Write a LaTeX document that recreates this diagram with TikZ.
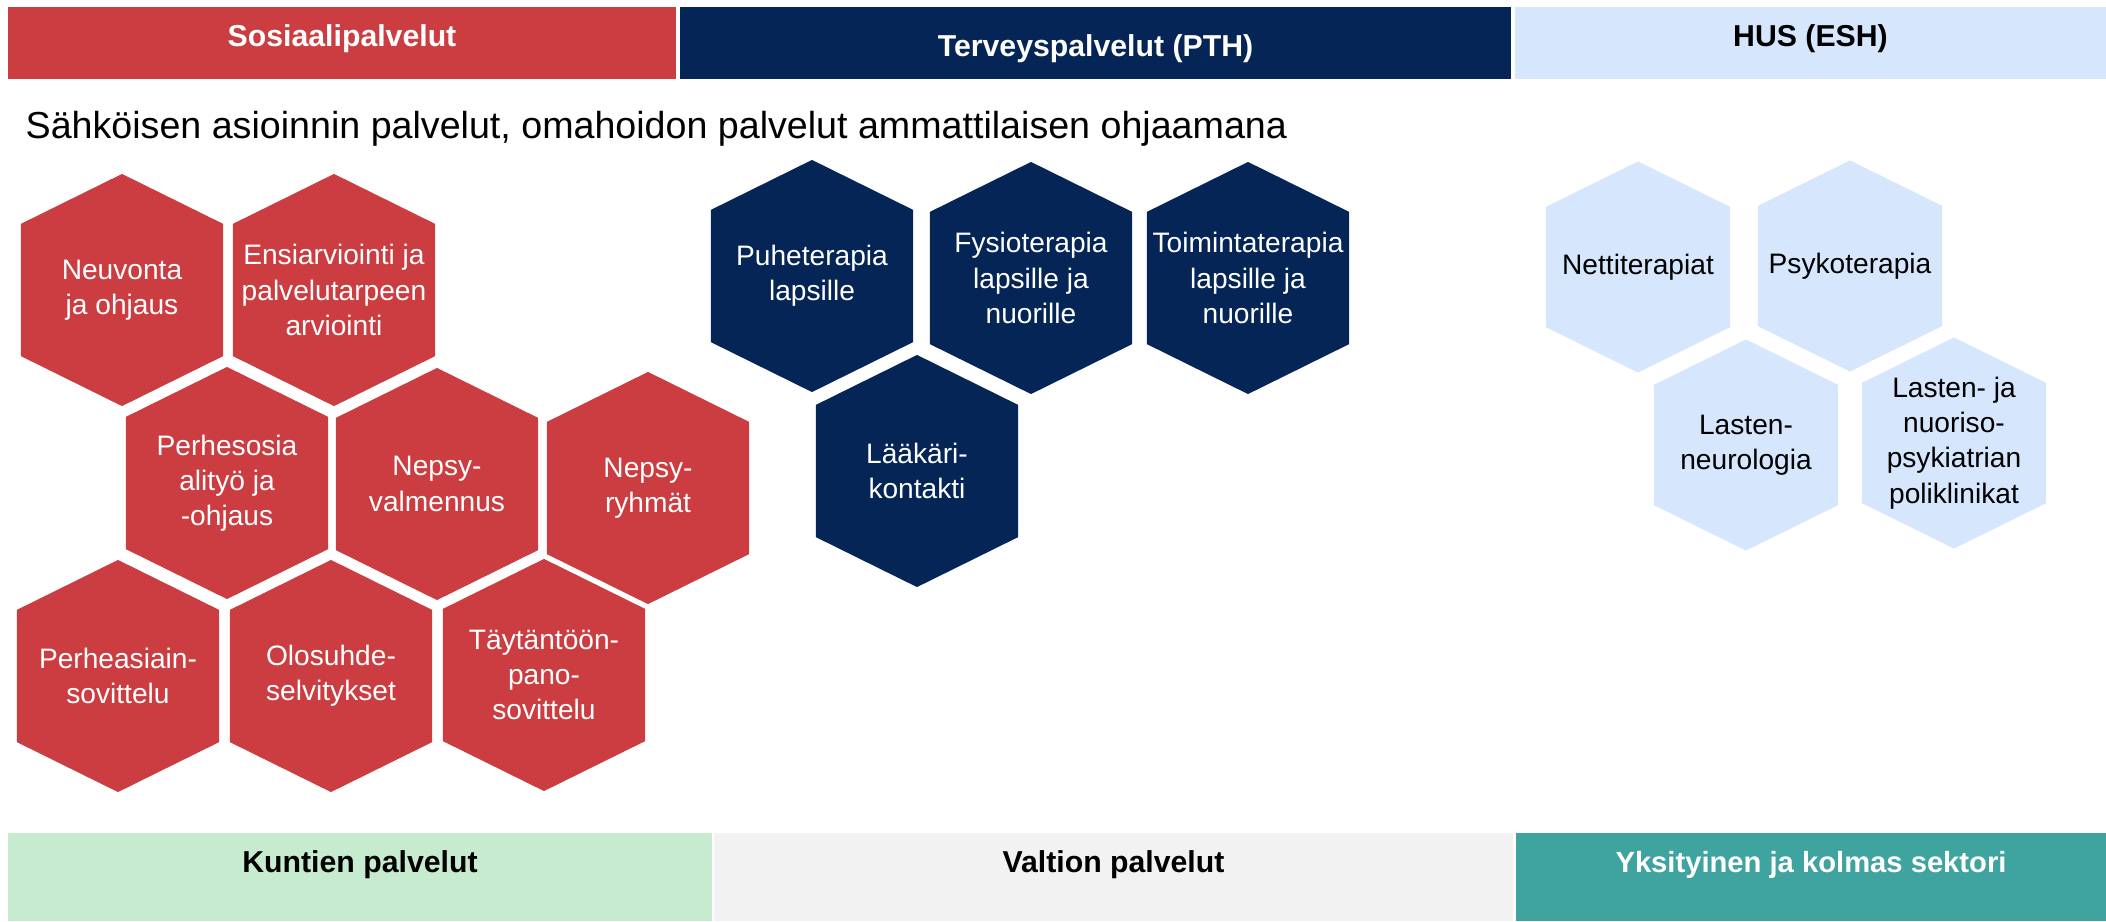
\documentclass[tikz,border=0pt]{standalone}
\usepackage{fontspec}
\setmainfont{Liberation Sans}
\usetikzlibrary{calc}
\definecolor{sosred}{HTML}{CB3D41}
\definecolor{pthnavy}{HTML}{042555}
\definecolor{huslight}{HTML}{D6E6FC}
\definecolor{kuntagreen}{HTML}{C6EBCE}
\definecolor{valtiogray}{HTML}{F2F2F2}
\definecolor{sektoriteal}{HTML}{3FA3A0}

\begin{document}
\begin{tikzpicture}[x=0.01cm, y=-0.01cm,
    hexa/.style={rectangle, inner sep=0, minimum width=2.02cm, minimum height=2.32cm,
      align=center, text=white, font=\fontsize{8}{10}\selectfont,
      path picture={\fill[#1] (path picture bounding box.north)
        -- ($(path picture bounding box.north east)!0.215!(path picture bounding box.south east)$)
        -- ($(path picture bounding box.north east)!0.785!(path picture bounding box.south east)$)
        -- (path picture bounding box.south)
        -- ($(path picture bounding box.north west)!0.785!(path picture bounding box.south west)$)
        -- ($(path picture bounding box.north west)!0.215!(path picture bounding box.south west)$)
        -- cycle;}},
    hexb/.style={hexa=huslight, minimum width=1.84cm, minimum height=2.11cm, text=black},
    band/.style={rectangle, inner sep=0, font=\fontsize{8.6}{11}\selectfont\bfseries},
    topband/.style={band, minimum height=0.72cm, text height=6.83pt, text depth=5.12pt},
    lowband/.style={band, minimum height=0.88cm, text height=6.83pt, text depth=9.39pt}]

\useasboundingbox (0,0) rectangle (2106,921);

% otsikkorivi
\node [topband, fill=sosred, text=white, minimum width=6.68cm] (sosiaali) at (342,43) {Sosiaalipalvelut};
\node [topband, fill=pthnavy, text=white, minimum width=8.31cm, text height=7.4pt, text depth=0pt] (terveys) at (1095.5,43) {Terveyspalvelut (PTH)};
\node [topband, fill=huslight, text=black, minimum width=5.91cm] (hus) at (1810.5,43) {HUS (ESH)};

\node [anchor=base west, inner sep=0, font=\fontsize{10.7}{12}\selectfont] (otsikko) at (25,138) {Sähköisen asioinnin palvelut, omahoidon palvelut ammattilaisen ohjaamana};

% sosiaalipalvelut
\node [hexa=sosred] (neuvonta) at (122,290) {Neuvonta\\ja ohjaus};
\node [hexa=sosred] (ensiarvio) at (334,290) {Ensiarviointi ja\\palvelutarpeen\\arviointi};
\node [hexa=sosred] (perhesos) at (227,483) {Perhesosia\\alityö ja\\-ohjaus};
\node [hexa=sosred] (nepsyval) at (437,484) {Nepsy-\\valmennus};
\node [hexa=sosred] (nepsyryh) at (648,488) {Nepsy-\\ryhmät};
\node [hexa=sosred] (perheas) at (118,676) {Perheasiain-\\sovittelu};
\node [hexa=sosred] (olosuhde) at (331,676) {Olosuhde-\\selvitykset};
\node [hexa=sosred] (taytanto) at (544,675) {Täytäntöön-\\pano-\\sovittelu};

% terveyspalvelut
\node [hexa=pthnavy] (puhe) at (812,276) {Puheterapia\\lapsille};
\node [hexa=pthnavy] (fysio) at (1031,278) {Fysioterapia\\lapsille ja\\nuorille};
\node [hexa=pthnavy] (toiminta) at (1248,278) {Toimintaterapia\\lapsille ja\\nuorille};
\node [hexa=pthnavy] (laakari) at (917,471) {Lääkäri-\\kontakti};

% HUS
\node [hexb] (netti) at (1638,267) {Nettiterapiat};
\node [hexb] (psyko) at (1850,266) {Psykoterapia};
\node [hexb] (neuro) at (1746,445) {Lasten-\\neurologia};
\node [hexb] (nuoriso) at (1954,443) {Lasten- ja\\nuoriso-\\psykiatrian\\poliklinikat};

% alarivi
\node [lowband, fill=kuntagreen, text=black, minimum width=7.04cm] (kunta) at (360,877) {Kuntien palvelut};
\node [lowband, fill=valtiogray, text=black, minimum width=7.99cm] (valtio) at (1113.5,877) {Valtion palvelut};
\node [lowband, fill=sektoriteal, text=white, minimum width=5.90cm, font=\fontsize{8.3}{11}\selectfont\bfseries] (sektori) at (1811,877) {Yksityinen ja kolmas sektori};
\end{tikzpicture}
\end{document}
